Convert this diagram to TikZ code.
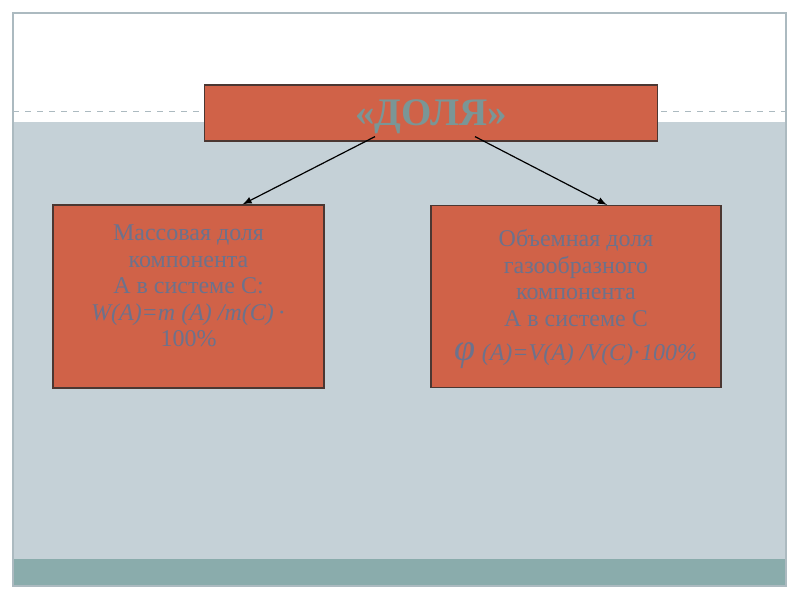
\documentclass[tikz,border=0pt]{standalone}
\usepackage{fontspec}
\setmainfont{Liberation Serif}
\usepackage{xcolor}
\usetikzlibrary{arrows}
\usetikzlibrary{positioning, math}
\definecolor{qframe}{RGB}{172,186,192}
\definecolor{qsky}{RGB}{197,209,215}
\definecolor{qteal}{RGB}{138,172,172}
\definecolor{qbrick}{RGB}{208,98,72}
\definecolor{qedge}{RGB}{75,55,50}
\definecolor{qink}{RGB}{108,114,140}
\definecolor{qtitle}{RGB}{122,150,150}

\tikzset{
  box/.style={draw=qedge, fill=qbrick, line width=0.6pt, inner sep=0pt},
  boxtext/.style={text=qink, align=center, inner sep=0pt,
    font=\fontsize{12}{13.3}\selectfont},
}

\begin{document}
\begin{tikzpicture}[x=0.5pt,y=-0.5pt]
\tikzmath{
\L=13;
\R=786;
}

%slide background:
 \fill[white] (0,0) rectangle (800,600);
 \fill[qsky] (\L,122) rectangle (\R,559);
 \fill[qteal] (\L,559) rectangle (\R,585);
 \draw[qframe, dashed, line width=0.4pt] (\L,111) -- (\R,111);
 \draw[qframe, line width=0.8pt] (\L,\L) rectangle (\R,586);
%title box
 \node[box, minimum width=226.5pt, minimum height=28pt, text=qtitle, text depth=0pt,
   font=\fontsize{19.5}{22}\selectfont\bfseries] (dolya) at (431,113) {«ДОЛЯ»};
%mass fraction
 \node[box, minimum width=135.5pt, minimum height=91.5pt] (mass) at (188.5,296.5) {};
 \node[boxtext, below=10pt of mass.north] (masstext)
   {Массовая доля\\компонента\\А в системе С:\\\textit{W(A)=m (A) /m(C)}\,·\\100\%};
%volume fraction
 \node[box, minimum width=145pt, minimum height=91pt] (vol) at (576,296.5) {};
 \node[boxtext, below=12pt of vol.north] (voltext)
   {Объемная доля\\газообразного\\компонента\\А в системе С\\[4pt]
    {\fontsize{19}{19}\selectfont\itshape φ}\ \textit{(A)=V(A) /V(C)}·\textit{100\%}};

 \draw[-latex, line width=0.6pt] ([xshift=-28pt,yshift=2.5pt]dolya.south) -- ([xshift=27pt]mass.north);
 \draw[-latex, line width=0.6pt] ([xshift=22pt,yshift=2.5pt]dolya.south) -- ([xshift=15.5pt]vol.north);
\end{tikzpicture}
\end{document}
